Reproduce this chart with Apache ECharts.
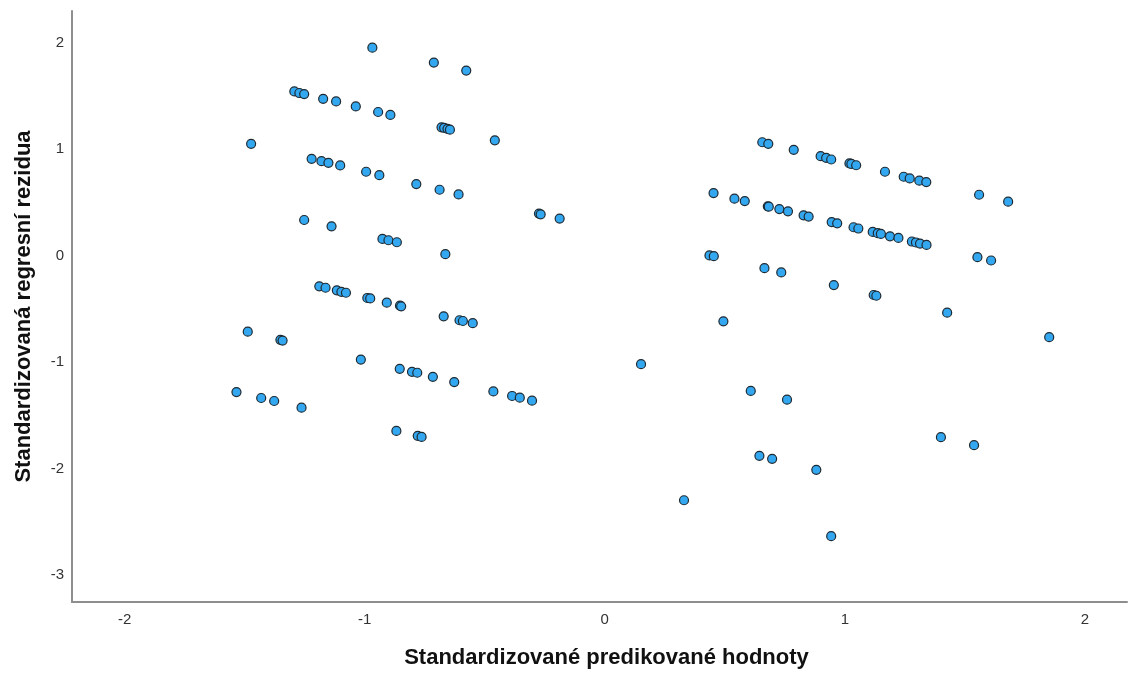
<!DOCTYPE html>
<html>
<head>
<meta charset="utf-8">
<script src="https://cdn.jsdelivr.net/npm/echarts@6/dist/echarts.min.js"></script>
<style>
  html, body { margin: 0; padding: 0; background: #ffffff; overflow: hidden; }
  #chart { width: 1130px; height: 674px; }
</style>
</head>
<body>
<div id="chart"></div>
<script>
// Standardized predicted values (x) and standardized residuals (y), one entry per case
const predicted = [
  -0.968, -0.712, -0.577, -1.293, -1.272, -1.252, -1.173, -1.119, -1.037, -0.944,
  -0.893, -0.680, -0.669, -0.655, -0.645, -0.458, -1.473, -1.221, -1.180, -1.151,
  -1.102, -0.994, -0.939, -0.785, -0.688, -0.609, -0.274, -0.267, -0.188, -1.252,
  -1.138, -0.926, -0.901, -0.866, -0.664, -1.189, -1.163, -1.116, -1.097, -1.078,
  -0.989, -0.977, -0.908, -0.853, -0.848, -0.671, -0.605, -0.591, -0.550, -1.487,
  -1.351, -1.342, -1.016, -0.854, -0.803, -0.781, -0.716, -0.627, -0.464, -0.386,
  -0.354, -0.303, -1.534, -1.431, -1.377, -1.263, -0.868, -0.779, -0.763,
  0.151, 0.330,
  0.656, 0.681, 0.787, 0.899, 0.922, 0.943, 1.019, 1.027, 1.047, 1.167,
  1.245, 1.270, 1.310, 1.339, 1.559, 1.680, 0.453, 0.540, 0.583, 0.679,
  0.683, 0.727, 0.763, 0.828, 0.849, 0.945, 0.968, 1.036, 1.056, 1.116,
  1.137, 1.150, 1.188, 1.223, 1.279, 1.296, 1.313, 1.340, 0.436, 0.454,
  1.552, 1.609, 0.665, 0.735, 0.954, 1.120, 1.131, 1.426, 0.494, 1.851,
  0.608, 0.759, 1.400, 1.538, 0.644, 0.697, 0.881, 0.943
];
const residuals = [
  1.952, 1.812, 1.737, 1.541, 1.526, 1.516, 1.472, 1.447, 1.400, 1.348,
  1.320, 1.204, 1.199, 1.190, 1.182, 1.082, 1.049, 0.908, 0.886, 0.871,
  0.846, 0.787, 0.755, 0.671, 0.618, 0.574, 0.394, 0.387, 0.347, 0.334,
  0.275, 0.156, 0.144, 0.125, 0.013, -0.289, -0.302, -0.326, -0.340, -0.349,
  -0.398, -0.402, -0.442, -0.470, -0.476, -0.570, -0.607, -0.614, -0.635, -0.714,
  -0.791, -0.798, -0.976, -1.063, -1.091, -1.100, -1.138, -1.187, -1.275, -1.318,
  -1.334, -1.362, -1.281, -1.337, -1.365, -1.428, -1.646, -1.692, -1.702,
  -1.019, -2.297,
  1.064, 1.049, 0.993, 0.933, 0.918, 0.902, 0.865, 0.860, 0.848, 0.787,
  0.740, 0.724, 0.703, 0.690, 0.571, 0.506, 0.587, 0.534, 0.512, 0.462,
  0.459, 0.437, 0.415, 0.378, 0.366, 0.315, 0.303, 0.266, 0.254, 0.222,
  0.210, 0.203, 0.181, 0.166, 0.132, 0.123, 0.113, 0.100, 0.001, -0.006,
  -0.015, -0.046, -0.118, -0.158, -0.277, -0.370, -0.377, -0.536, -0.617, -0.766,
  -1.271, -1.353, -1.705, -1.780, -1.880, -1.908, -2.011, -2.634
];

const xTitle = 'Standardizované predikované hodnoty';
const yTitle = 'Standardizovaná regresní rezidua';

const points = predicted.map((x, i) => [x, residuals[i]]);

const chart = echarts.init(document.getElementById('chart'), null, { renderer: 'canvas' });

// only whole-number ticks get a label; the axis ends stay unlabeled
const integerOnly = v => (Math.abs(v - Math.round(v)) < 1e-9 ? String(Math.round(v)) : '');

const axisCommon = {
  type: 'value',
  minInterval: 1,
  maxInterval: 1,
  splitLine: { show: false },
  axisTick: { show: false },
  axisLine: { show: true, onZero: false, lineStyle: { color: '#8e8e8e', width: 2 } },
  nameLocation: 'middle',
  nameTextStyle: { fontFamily: 'Liberation Sans', fontWeight: 'bold', fontSize: 22, color: '#111' },
  axisLabel: { fontFamily: 'Liberation Sans', fontSize: 15, color: '#333', formatter: integerOnly }
};

chart.setOption({
  animation: false,
  backgroundColor: '#ffffff',
  grid: { left: 72, right: -3, top: 11, bottom: 70, containLabel: false },
  xAxis: Object.assign({}, axisCommon, {
    min: -2.219, max: 2.175,
    name: xTitle, nameGap: 45,
    nameTextStyle: Object.assign({}, axisCommon.nameTextStyle, { padding: [0, 0, 0, 14] }),
    axisLabel: Object.assign({}, axisCommon.axisLabel, { margin: 10 })
  }),
  yAxis: Object.assign({}, axisCommon, {
    min: -3.252, max: 2.296,
    name: yTitle, nameGap: 37,
    axisLabel: Object.assign({}, axisCommon.axisLabel, { margin: 8 })
  }),
  series: [{
    type: 'scatter',
    data: points,
    symbol: 'circle',
    symbolSize: 9,
    itemStyle: { color: '#33a8f0', borderColor: '#1e2a33', borderWidth: 1.2, opacity: 1 }
  }]
});
</script>
</body>
</html>
